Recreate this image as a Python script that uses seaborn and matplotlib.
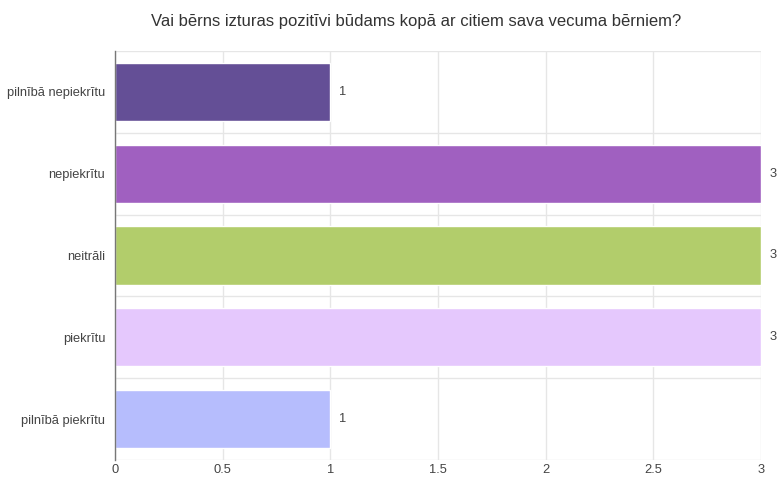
import numpy as np
import pandas as pd
import seaborn as sns
import matplotlib.pyplot as plt

categories = ["pilnībā nepiekrītu", "nepiekrītu", "neitrāli", "piekrītu", "pilnībā piekrītu"]
counts = [1, 3, 3, 3, 1]
colors = ["#644f96", "#a060c0", "#b2cd6b", "#e5c8fd", "#b6bdfd"]
x_ticks = [0, 0.5, 1, 1.5, 2, 2.5, 3]
x_tick_labels = ["0", "0.5", "1", "1.5", "2", "2.5", "3"]
title = "Vai bērns izturas pozitīvi būdams kopā ar citiem sava vecuma bērniem?"

sns.set_theme(style="white")
plt.rcParams['font.family'] = ['Liberation Sans', 'DejaVu Sans']

df = pd.DataFrame({"category": categories, "count": counts})

fig = plt.figure(figsize=(7.79, 4.79), dpi=100)
ax = fig.add_axes([0.1476, 0.0397, 0.8293, 0.8538])

sns.barplot(data=df, y="category", x="count", hue="category", palette=colors,
            order=categories, legend=False, width=0.71, saturation=1, ax=ax)

ax.set_xlim(0, 3)
ax.set_ylim(len(categories) - 0.5, -0.5)
ax.set_xticks(x_ticks)
ax.set_xticklabels(x_tick_labels)
ax.set_yticks(np.arange(len(categories) + 1) - 0.5, minor=True)

ax.grid(True, axis="x", color="#e6e6e6", linewidth=1)
ax.grid(True, axis="y", which="minor", color="#e6e6e6", linewidth=1)
ax.set_axisbelow(True)

for s in ["top", "right", "bottom"]:
    ax.spines[s].set_visible(False)
ax.spines["left"].set_color("#777777")
ax.spines["left"].set_linewidth(1)

ax.tick_params(axis="both", which="both", length=0, labelsize=9.3, colors="#444444")
ax.tick_params(axis="x", pad=3)
ax.tick_params(axis="y", pad=7)
ax.set_xlabel("")
ax.set_ylabel("")

for i, v in enumerate(counts):
    ax.text(v + 0.04, i, str(v), va="center", ha="left", fontsize=9.3, color="#444444", clip_on=False)

fig.suptitle(title, x=0.534, y=0.97, fontsize=12, color="#333333")

fig.savefig("out.png", dpi=100)
